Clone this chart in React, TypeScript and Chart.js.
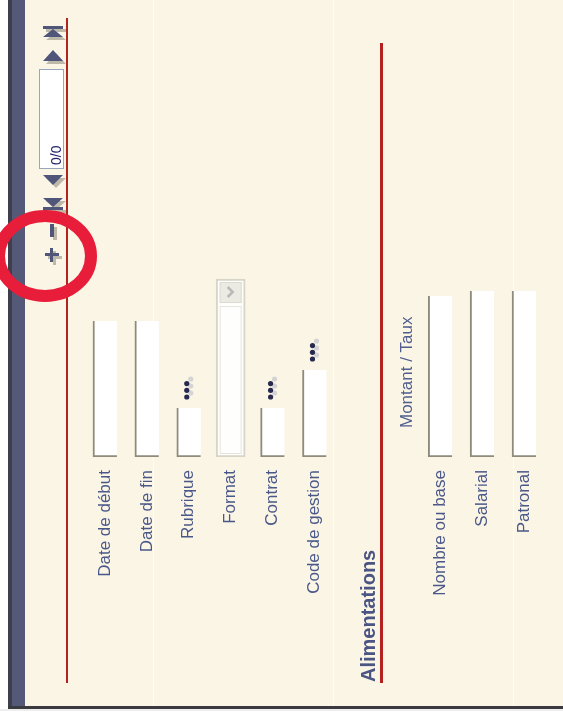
import React, { useEffect, useRef } from "react";
import { Chart, registerables } from "chart.js";

Chart.register(...registerables);

// ---- data ----
const columnLabels = [
  "Date de début",
  "Date de fin",
  "Rubrique",
  "Format",
  "Contrat",
  "Code de gestion",
  "Alimentations",
  "Montant / Taux",
  "Nombre ou base",
  "Salarial",
  "Patronal",
];
// height of each white input box (field) in scale units
const fieldHeights = [136, 136, 49, null, 49, 87, null, null, 161, 166, 166];
// height of the select (drop-down) box
const selectHeights = [null, null, null, 178, null, null, null, null, null, null, null];
// fields that carry a "•••" lookup button
const lookupColumns = ["Rubrique", "Contrat", "Code de gestion"];
const sectionTitle = "Alimentations";
const subHeading = "Montant / Taux";
const pagerText = "0/0";

const LABEL_FONT = "'Liberation Sans', Arial, sans-serif";

function drawRotatedText(ctx: CanvasRenderingContext2D, text: string, x: number, y: number, font: string, color: string) {
  ctx.save();
  ctx.translate(x, y);
  ctx.rotate(-Math.PI / 2);
  ctx.font = font;
  ctx.fillStyle = color;
  ctx.textAlign = "left";
  ctx.textBaseline = "alphabetic";
  ctx.fillText(text, 0, 0);
  ctx.restore();
}

function tri(ctx: CanvasRenderingContext2D, pts: number[][], color: string) {
  ctx.fillStyle = color;
  ctx.beginPath();
  ctx.moveTo(pts[0][0], pts[0][1]);
  for (let i = 1; i < pts.length; i++) ctx.lineTo(pts[i][0], pts[i][1]);
  ctx.closePath();
  ctx.fill();
}

const chromePlugin = {
  id: "formChrome",
  beforeDraw(chart: any) {
    const { ctx, width, height, scales } = chart;
    const x = scales.x;
    const panelBottom = 706;
    ctx.save();
    ctx.fillStyle = "#ffffff";
    ctx.fillRect(0, 0, width, height);
    // cream panel
    ctx.fillStyle = "#fbf5e6";
    ctx.fillRect(25, 0, width - 25, panelBottom);
    // faint column separators
    ctx.fillStyle = "#fffcf5";
    [153, 333, 513].forEach((px) => ctx.fillRect(px, 0, 1, panelBottom));
    // left dark band
    ctx.fillStyle = "#3e3e4c";
    ctx.fillRect(8, 0, 4, panelBottom + 3);
    ctx.fillStyle = "#555978";
    ctx.fillRect(12, 0, 13, panelBottom);
    // bottom border
    ctx.fillStyle = "#3b3b3f";
    ctx.fillRect(8, panelBottom, width - 8, 3);
    ctx.fillStyle = "#eeeeee";
    ctx.fillRect(0, panelBottom + 3, width, 2);

    // red section rules
    ctx.fillStyle = "#b5211e";
    ctx.fillRect(66, 18, 2, 665);
    ctx.fillRect(380, 43, 3, 640);

    // section title and sub heading
    const iTitle = columnLabels.indexOf(sectionTitle);
    const iSub = columnLabels.indexOf(subHeading);
    drawRotatedText(ctx, sectionTitle, x.getPixelForValue(iTitle) + 19, 682, `bold 20px ${LABEL_FONT}`, "#4b5583");
    drawRotatedText(ctx, subHeading, x.getPixelForValue(iSub) + 14, 428, `17px ${LABEL_FONT}`, "#4f5d8f");

    // pager (rotated)
    const icon = "#50557a";
    const shadow = "#bdb9a9";
    const cx = 53;
    const drawIcons = (c: string, dx: number, dy: number) => {
      ctx.fillStyle = c;
      ctx.fillRect(cx - 10 + dx, 26 + dy, 20, 3);
      tri(ctx, [[cx + dx, 29 + dy], [cx - 10 + dx, 37 + dy], [cx + 10 + dx, 37 + dy]], c);
      tri(ctx, [[cx + dx, 50 + dy], [cx - 10 + dx, 61 + dy], [cx + 10 + dx, 61 + dy]], c);
      tri(ctx, [[cx + dx, 185 + dy], [cx - 10 + dx, 175 + dy], [cx + 10 + dx, 175 + dy]], c);
      tri(ctx, [[cx + dx, 207 + dy], [cx - 10 + dx, 198 + dy], [cx + 10 + dx, 198 + dy]], c);
      ctx.fillStyle = c;
      ctx.fillRect(cx - 10 + dx, 207 + dy, 20, 3);
      ctx.fillRect(cx - 3 + dx, 224 + dy, 4, 13);
      ctx.fillRect(cx - 8 + dx, 253 + dy, 14, 3);
      ctx.fillRect(cx - 3 + dx, 248 + dy, 3, 14);
    };
    drawIcons(shadow, 3, 3);
    drawIcons(icon, 0, 0);
    // page box
    ctx.fillStyle = "#ffffff";
    ctx.fillRect(39.5, 69.5, 24, 99);
    ctx.strokeStyle = "#97a6bd";
    ctx.lineWidth = 1;
    ctx.strokeRect(39.5, 69.5, 24, 99);
    drawRotatedText(ctx, pagerText, 61, 165, `14px ${LABEL_FONT}`, "#23236a");
    ctx.restore();
  },
  afterDatasetsDraw(chart: any) {
    const { ctx, scales } = chart;
    const x = scales.x;
    const y = scales.y;
    ctx.save();
    lookupColumns.forEach((name) => {
      const i = columnLabels.indexOf(name);
      const cx = x.getPixelForValue(i) - 2;
      const top = y.getPixelForValue(fieldHeights[i] as number);
      for (let k = 0; k < 3; k++) {
        ctx.fillStyle = "#d4d4d4";
        ctx.beginPath();
        ctx.arc(cx + 4, top - 15 - k * 7, 2.6, 0, Math.PI * 2);
        ctx.fill();
      }
      for (let k = 0; k < 3; k++) {
        ctx.fillStyle = "#272a4e";
        ctx.beginPath();
        ctx.arc(cx, top - 11 - k * 6.7, 2.6, 0, Math.PI * 2);
        ctx.fill();
      }
    });
    selectHeights.forEach((h, i) => {
      if (h == null) return;
      const cx = x.getPixelForValue(i);
      const top = y.getPixelForValue(h);
      const bottom = y.getPixelForValue(0);
      ctx.fillStyle = "#ecebe3";
      ctx.fillRect(cx - 11, top + 3, 22, 21);
      ctx.strokeStyle = "#dddbd0";
      ctx.lineWidth = 1;
      ctx.strokeRect(cx - 10.5, top + 3.5, 21, 20);
      ctx.strokeStyle = "#b9b9b9";
      ctx.lineWidth = 2.5;
      ctx.beginPath();
      ctx.moveTo(cx - 3, top + 8);
      ctx.lineTo(cx + 2, top + 13);
      ctx.lineTo(cx - 3, top + 18);
      ctx.stroke();
      ctx.strokeStyle = "#e6e4da";
      ctx.lineWidth = 1;
      ctx.strokeRect(cx - 10.5, top + 27.5, 21, bottom - top - 31);
    });
    ctx.restore();
  },
  afterDraw(chart: any) {
    const { ctx } = chart;
    ctx.save();
    ctx.strokeStyle = "#e81d39";
    ctx.lineWidth = 12;
    ctx.beginPath();
    ctx.ellipse(45, 256, 46, 40, 0, 0, Math.PI * 2);
    ctx.stroke();
    ctx.restore();
  },
};

export default function App() {
  const canvasRef = useRef<HTMLCanvasElement | null>(null);

  useEffect(() => {
    const canvas = canvasRef.current;
    if (!canvas) return;
    const chart = new Chart(canvas, {
      type: "bar",
      data: {
        labels: columnLabels,
        datasets: [
          {
            label: "Champs",
            data: fieldHeights as any,
            backgroundColor: "#ffffff",
            borderColor: "#8e8b7c",
            borderWidth: { left: 2, bottom: 2, top: 0, right: 0 } as any,
            borderSkipped: false,
            barThickness: 24,
            grouped: false,
          } as any,
          {
            label: "Liste",
            data: selectHeights as any,
            backgroundColor: "#fefefc",
            borderColor: "#d7d5c7",
            borderWidth: 2,
            borderSkipped: false,
            barThickness: 29,
            grouped: false,
          } as any,
        ],
      },
      options: {
        animation: false,
        responsive: false,
        devicePixelRatio: 1,
        layout: { padding: { left: 84, right: 18, top: 7, bottom: 0 } },
        plugins: { legend: { display: false }, tooltip: { enabled: false }, title: { display: false } },
        scales: {
          x: {
            type: "category",
            offset: true,
            grid: { display: false, drawTicks: false },
            border: { display: false },
            ticks: {
              autoSkip: false,
              minRotation: 90,
              maxRotation: 90,
              padding: 13,
              color: "#4a5889",
              font: { family: LABEL_FONT, size: 17 },
              callback: (_v: any, i: number) => {
                const l = columnLabels[i];
                return l === sectionTitle || l === subHeading ? "" : l;
              },
            },
            afterFit: (scale: any) => {
              scale.height = 265;
            },
          },
          y: { display: false, min: 0, max: 450 },
        },
      },
      plugins: [chromePlugin],
    } as any);
    return () => chart.destroy();
  }, []);

  return (
    <div style={{ position: "fixed", left: 0, top: 0, width: 563, height: 722 }}>
      <canvas ref={canvasRef} width={563} height={722} style={{ display: "block" }} />
    </div>
  );
}
